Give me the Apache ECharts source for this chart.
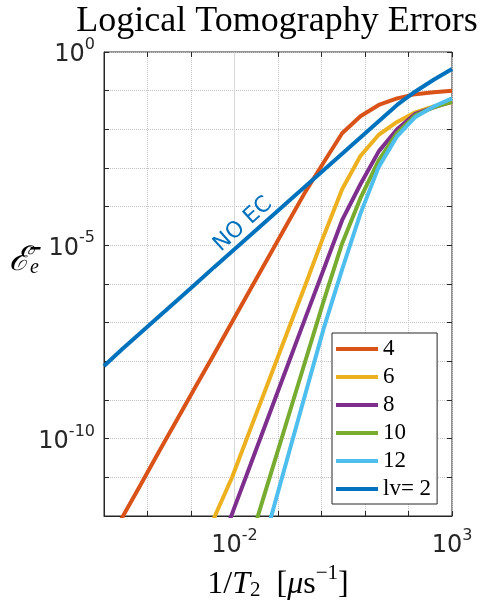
<!DOCTYPE html>
<html><head><meta charset="utf-8">
<script src="https://cdn.jsdelivr.net/npm/echarts@6/dist/echarts.min.js"></script>
<style>html,body{margin:0;padding:0;background:#fff}#c{width:485px;height:601px}</style>
</head><body><div id="c"></div>
<script>
// x positions: 1/T2 [us^-1]
const xVals = [1e-5, 2.64e-5, 6.95e-5, 1.83e-4, 4.83e-4, 1.27e-3, 3.36e-3, 8.86e-3, 2.34e-2, 6.16e-2,
               0.162, 0.428, 1.129, 2.98, 7.85, 20.7, 54.6, 143.8, 379, 1000];
const seriesNames = ['4', '6', '8', '10', '12', 'lv= 2'];
const err4  = [1.35e-13, 9.33e-13, 6.46e-12, 4.57e-11, 3.16e-10, 2.19e-9, 1.51e-8, 1.05e-7, 7.41e-7, 5.13e-6,
               3.55e-5, 2.45e-4, 1.41e-3, 7.94e-3, 2.19e-2, 4.27e-2, 6.31e-2, 8.13e-2, 9.12e-2, 0.100];
const err6  = [null, null, null, null, null, null, 8.71e-13, 1.02e-11, 1.82e-10, 3.16e-9,
               5.50e-8, 9.55e-7, 1.78e-5, 2.82e-4, 2.04e-3, 7.24e-3, 1.55e-2, 2.75e-2, 3.89e-2, 5.01e-2];
const err8  = [null, null, null, null, null, null, 6.46e-14, 1.17e-12, 2.14e-11, 3.98e-10,
               7.24e-9, 1.35e-7, 2.45e-6, 4.47e-5, 3.80e-4, 2.69e-3, 1.0e-2, 2.51e-2, 3.72e-2, 5.25e-2];
const err10 = [null, null, null, null, null, null, null, 6.92e-15, 2.40e-13, 8.51e-12,
               2.95e-10, 1.05e-8, 3.72e-7, 1.12e-5, 1.66e-4, 1.58e-3, 7.94e-3, 2.29e-2, 3.72e-2, 5.25e-2];
const err12 = [null, null, null, null, null, null, null, null, 1.20e-14, 5.89e-13,
               2.95e-11, 1.48e-9, 7.24e-8, 2.40e-6, 6.61e-5, 1.07e-3, 6.61e-3, 2.09e-2, 3.89e-2, 6.31e-2];
const errNoEC = [7.59e-9, 2.09e-8, 5.50e-8, 1.45e-7, 3.80e-7, 1.0e-6, 2.69e-6, 7.08e-6, 1.86e-5, 4.90e-5,
               1.29e-4, 3.39e-4, 8.91e-4, 2.34e-3, 6.17e-3, 1.62e-2, 4.27e-2, 9.55e-2, 0.191, 0.363];
const xLabelExps = [-2, 3];
const yLabelExps = [0, -5, -10];
const majorX = [1e-2];
const majorY = [1e-5, 1e-10];
const noEcLabel = {text: 'NO EC', x: 0.0157, y: 3.5e-5};

const colors = ['#D95319', '#EDB120', '#7E2F8E', '#77AC30', '#4DBEEE', '#0072BD'];
const allY = [err4, err6, err8, err10, err12, errNoEC];
const axisColor = '#262626';
const tickFont = 'DejaVu Sans';

function pairs(ys) {
  const out = [];
  ys.forEach((y, i) => { if (y !== null) out.push([xVals[i], y]); });
  return out;
}
function expLabel(list) {
  return function (v) {
    const e = Math.round(Math.log10(v));
    return list.indexOf(e) >= 0 ? '{b|10}{s|' + e + '}' : '';
  };
}
const tickRich = {
  b: {fontFamily: tickFont, fontSize: 24, color: axisColor, verticalAlign: 'bottom', lineHeight: 30},
  s: {fontFamily: tickFont, fontSize: 16, color: axisColor, verticalAlign: 'top', lineHeight: 30}
};

const series = allY.map((ys, i) => ({
  name: seriesNames[i], type: 'line', data: pairs(ys), showSymbol: false, symbol: 'none',
  lineStyle: {width: 4, color: colors[i]}, itemStyle: {color: colors[i]}, z: 3, clip: true
}));
series[0].markLine = {silent: true, symbol: 'none', z: 1, label: {show: false}, animation: false,
  lineStyle: {type: 'solid', color: '#d9d9d9', width: 1},
  emphasis: {disabled: true},
  data: majorX.map(v => ({xAxis: v})).concat(majorY.map(v => ({yAxis: v})))};

const chart = echarts.init(document.getElementById('c'), null, {renderer: 'canvas'});
chart.setOption({
  animation: false,
  color: colors,
  grid: {left: 104, right: 33, top: 52, bottom: 85, outerBoundsMode: 'none', containLabel: false,
         show: true, borderColor: axisColor, borderWidth: 1, backgroundColor: 'transparent'},
  xAxis: [{
    type: 'log', logBase: 10, min: 1e-5, max: 1e3, interval: 1, position: 'bottom',
    axisLine: {show: true, lineStyle: {color: axisColor}},
    axisTick: {show: true, inside: true, length: 5, lineStyle: {color: axisColor}},
    axisLabel: {formatter: expLabel(xLabelExps), rich: tickRich, margin: 12},
    splitLine: {show: true, lineStyle: {type: 'dotted', color: '#c4c4c4'}},
    name: '{n|1/}{i|T}{sb|2}{n|  [}{i|μ}{n|s}{sp|−1}{n|]}',
    nameLocation: 'middle', nameGap: 45,
    nameTextStyle: {rich: {
      n: {fontFamily: 'Liberation Serif', fontSize: 32, color: '#000', verticalAlign: 'bottom', lineHeight: 38},
      i: {fontFamily: 'Liberation Serif', fontStyle: 'italic', fontSize: 32, color: '#000', verticalAlign: 'bottom', lineHeight: 38},
      sb: {fontFamily: 'Liberation Serif', fontSize: 21, color: '#000', verticalAlign: 'bottom', lineHeight: 32},
      sp: {fontFamily: 'Liberation Serif', fontSize: 21, color: '#000', verticalAlign: 'top', lineHeight: 38}
    }}
  }, {
    type: 'log', logBase: 10, min: 1e-5, max: 1e3, interval: 1, position: 'top', gridIndex: 0,
    axisLine: {show: false}, axisTick: {show: true, inside: true, length: 5, lineStyle: {color: axisColor}},
    axisLabel: {show: false}, splitLine: {show: false}
  }],
  yAxis: [{
    type: 'log', logBase: 10, min: 1e-12, max: 1, interval: 1, position: 'left',
    axisLine: {show: true, lineStyle: {color: axisColor}},
    axisTick: {show: true, inside: true, length: 5, lineStyle: {color: axisColor}},
    axisLabel: {formatter: expLabel(yLabelExps), rich: tickRich, margin: 9, align: 'right'},
    splitLine: {show: true, lineStyle: {type: 'dotted', color: '#c4c4c4'}}
  }, {
    type: 'log', logBase: 10, min: 1e-12, max: 1, interval: 1, position: 'right', gridIndex: 0,
    axisLine: {show: false}, axisTick: {show: true, inside: true, length: 5, lineStyle: {color: axisColor}},
    axisLabel: {show: false}, splitLine: {show: false}
  }],
  legend: {
    data: seriesNames, orient: 'vertical', left: 332, top: 333, icon: 'rect',
    itemWidth: 42, itemHeight: 4, itemGap: 4,
    textStyle: {fontFamily: 'Liberation Serif', fontSize: 23, color: '#000', lineHeight: 24},
    borderColor: axisColor, borderWidth: 1, backgroundColor: '#fff', padding: [4, 6, 3, 4],
    borderRadius: 0
  },
  series: series
});

const p = chart.convertToPixel({gridIndex: 0}, [noEcLabel.x, noEcLabel.y]);
chart.setOption({
  graphic: [
    {type: 'text', x: 277, y: 40, z: 10,
     style: {text: 'Logical Tomography Errors', font: '36px "Liberation Serif"', fill: '#000', align: 'center', verticalAlign: 'bottom'}},
    {type: 'text', x: 24, y: 260, z: 10,
     style: {text: '{E|ℰ\u0304}{e|e}', align: 'center', verticalAlign: 'middle',
       rich: {E: {font: 'italic 34px "DejaVu Serif"', fill: '#000', verticalAlign: 'bottom', lineHeight: 36},
              e: {font: 'italic 20px "Liberation Serif"', fill: '#000', verticalAlign: 'bottom', lineHeight: 30}}}},
    {type: 'text', x: p[0], y: p[1], rotation: 42 * Math.PI / 180, z: 10,
     style: {text: noEcLabel.text, font: '22px "DejaVu Sans"', fill: '#0072BD', align: 'center', verticalAlign: 'middle'}}
  ]
});
</script></body></html>
